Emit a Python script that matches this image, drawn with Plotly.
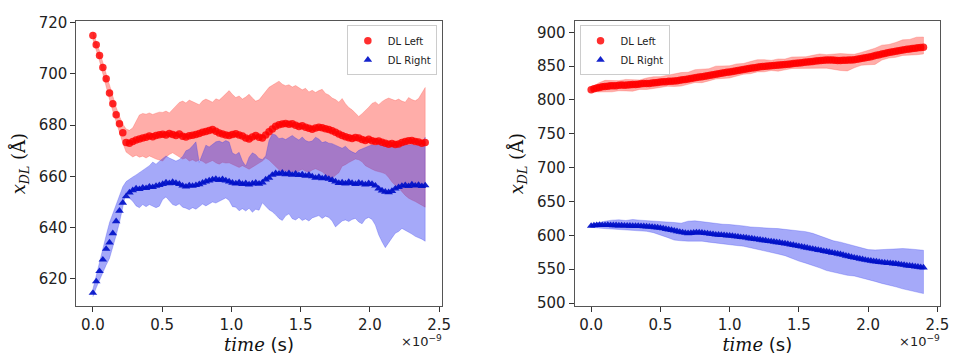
import plotly.graph_objects as go

# ---------------- Left panel data (time in units of 1e-9 s) ----------------
t_left = [round(0.024 * i, 4) for i in range(101)]

left_red_mean = [
    715.0, 711.4, 707.2, 702.5, 698.1, 692.6, 688.4, 684.1, 680.6, 677.1, 673.2,
    673.0, 673.6, 674.2, 674.6, 675.0, 675.3, 675.8, 675.5, 676.0, 676.3,
    676.5, 676.2, 676.8, 676.4, 676.0, 676.6, 675.7, 675.4, 675.9, 676.1,
    676.4, 676.8, 677.2, 677.5, 677.9, 678.3, 677.6, 677.0, 676.6, 676.2,
    676.0, 676.4, 676.7, 676.2, 675.8, 675.0, 674.6, 675.4, 676.0, 675.3,
    675.0, 676.2, 677.4, 678.5, 679.6, 680.2, 680.5, 680.7, 680.4, 680.6,
    680.0, 679.5, 679.8, 679.2, 678.8, 678.4, 678.9, 679.2, 679.0, 678.6,
    678.3, 677.8, 677.2, 676.6, 676.0, 675.5, 675.1, 674.8, 675.2, 675.0,
    674.4, 674.0, 674.5, 673.9, 673.6, 673.8, 673.3, 673.0, 672.6, 672.9,
    672.5, 672.7, 673.2, 673.6, 673.9, 674.0, 673.6, 673.4, 673.0, 673.2]

left_red_upper = [
    716.5, 713.0, 709.0, 704.5, 700.0, 695.0, 691.0, 687.0, 683.5, 680.5, 678.5,
    678.0, 679.0, 681.5, 684.0, 684.6, 684.3, 684.8, 684.2, 684.7, 685.1,
    685.0, 685.5, 684.8, 686.2, 687.6, 688.9, 689.4, 688.7, 689.8, 689.1,
    688.4, 688.0, 689.5, 690.2, 689.6, 689.0, 690.3, 689.8, 691.0, 692.4,
    693.5, 692.0, 690.8, 691.4, 690.2, 691.0, 692.1, 690.6, 689.4, 689.9,
    691.5, 693.4, 694.8, 695.6, 696.4, 697.2, 696.0, 695.4, 695.8, 694.9,
    695.5, 694.6, 693.8, 694.4, 693.0, 693.6, 692.8, 693.5, 694.0, 692.4,
    691.8, 690.6, 690.0, 689.0, 690.4, 688.4, 686.9, 686.0, 684.8, 683.4,
    684.5, 685.6, 687.0, 688.5, 689.1, 688.0, 689.2, 690.0, 690.6, 690.1,
    689.6, 690.2, 689.4, 689.0, 690.8, 690.0, 689.5, 690.4, 692.3, 694.7]

left_red_lower = [
    713.5, 709.5, 705.0, 700.0, 695.5, 690.0, 685.5, 681.0, 677.0, 673.0, 669.5,
    668.5, 667.6, 668.3, 667.5, 667.9, 667.2, 668.0, 667.4, 666.8, 666.3,
    666.0, 667.5, 668.6, 669.2, 668.4, 667.6, 666.8, 667.2, 666.0, 666.5,
    665.8, 666.4, 665.9, 665.0, 665.6, 666.2, 665.3, 664.8, 665.5, 665.2,
    665.3, 664.6, 664.0, 663.5, 664.2, 663.5, 662.8, 663.6, 664.4, 665.2,
    666.0, 667.2, 666.4, 665.0, 663.8, 662.6, 661.7, 662.3, 661.5, 662.0,
    661.4, 662.2, 662.8, 662.0, 661.6, 662.5, 663.0, 662.4, 661.8, 660.6,
    659.8, 659.2, 660.5, 661.4, 664.0, 664.6, 665.4, 666.2, 666.8, 666.5,
    665.7, 664.2, 663.6, 662.8, 662.2, 661.8, 661.5, 661.0, 659.6, 657.8,
    656.5, 655.5, 654.2, 652.6, 651.5, 650.8, 650.2, 649.6, 648.8, 648.0]

left_blue_mean = [
    614.5, 619.0, 623.0, 627.5, 631.7, 634.2, 637.8, 642.5, 646.6, 649.7, 652.2,
    653.7, 654.6, 655.3, 655.0, 655.6, 655.4, 656.0, 655.8, 656.3, 656.6,
    657.0, 657.6, 657.3, 657.8, 657.4, 657.0, 656.4, 656.0, 656.5, 656.3,
    656.6, 656.9, 657.5, 658.0, 658.4, 658.8, 659.0, 658.6, 658.9, 658.4,
    658.0, 657.5, 657.2, 657.6, 657.0, 657.3, 656.8, 657.2, 657.5, 657.1,
    657.6, 658.8, 659.4, 660.6, 661.2, 661.0, 661.4, 660.8, 661.2, 660.6,
    661.0, 660.5, 660.8, 660.2, 660.6, 660.0, 659.4, 659.8, 659.2, 659.5,
    659.0, 658.6, 658.0, 657.4, 657.6, 657.2, 657.8, 657.4, 657.0, 657.5,
    657.2, 656.8, 657.3, 657.0, 656.4, 655.2, 654.5, 654.0, 653.8, 654.3,
    655.2, 655.8, 656.3, 656.6, 656.2, 656.8, 656.4, 656.7, 656.2, 656.5]

left_blue_upper = [
    616.0, 621.5, 627.0, 632.0, 637.0, 642.0, 645.5, 649.0, 652.5, 656.0, 658.0,
    659.0, 659.8, 660.6, 661.5, 662.4, 663.0, 664.2, 665.6, 664.8, 665.9,
    667.0, 668.0, 667.2, 666.5, 666.0, 666.6, 667.8, 670.0, 670.6, 672.0,
    673.5, 665.5, 669.0, 672.2, 671.5, 672.4, 673.5, 673.8, 673.2, 674.0,
    673.4, 669.1, 668.5, 669.4, 666.0, 664.1, 667.5, 669.2, 668.5, 667.0,
    666.6, 668.0, 674.0, 676.6, 676.2, 674.7, 675.0, 674.4, 675.3, 676.0,
    675.0, 674.2, 675.4, 674.0, 673.5, 673.8, 675.3, 674.6, 673.2, 673.6,
    673.0, 672.8, 672.2, 671.6, 671.0, 671.8, 670.4, 669.6, 669.0, 670.2,
    670.8, 671.5, 672.0, 672.4, 672.0, 672.6, 672.2, 672.5, 671.8, 672.3,
    672.6, 672.0, 672.4, 672.8, 672.2, 672.5, 672.0, 672.6, 673.0, 675.3]

left_blue_lower = [
    613.0, 616.5, 619.5, 622.5, 625.4, 628.0, 632.0, 637.0, 642.0, 647.8, 654.0,
    651.5, 650.3, 648.5, 647.8, 649.0, 648.2, 649.0, 648.4, 647.8, 648.4,
    651.0, 652.0, 650.4, 649.0, 648.6, 649.3, 648.0, 647.6, 647.0, 647.8,
    647.2, 648.0, 649.2, 648.5, 649.4, 650.0, 649.6, 650.4, 651.0, 651.6,
    650.6, 648.2, 648.0, 646.6, 647.4, 646.5, 647.6, 646.0, 647.2, 646.8,
    649.7, 648.5, 647.0, 646.2, 645.0, 643.6, 642.8, 644.6, 645.4, 643.5,
    643.0, 644.0, 642.8, 643.4, 642.6, 643.8, 644.2, 644.7, 643.6, 644.5,
    644.0, 642.6, 640.3, 641.5, 642.6, 643.0, 642.4, 643.2, 643.6, 642.2,
    641.5, 643.4, 644.0, 643.2, 641.0, 637.2, 634.5, 632.2, 634.0, 636.0,
    637.8, 638.5, 639.7, 639.0, 638.2, 637.5, 636.6, 636.0, 635.5, 634.7]

# ---------------- Right panel data ----------------
t_right = [round(0.02 * i, 4) for i in range(121)]

right_red_mean = [
    815.0, 816.5, 817.8, 818.6, 819.4, 820.0, 820.4, 820.9, 821.2, 821.0,
    821.6, 822.0, 821.7, 822.3, 822.6, 823.0, 822.8, 823.4, 823.9, 824.2,
    824.5, 824.3, 825.0, 825.6, 826.0, 826.5, 826.8, 827.0, 827.6, 827.8,
    828.0, 828.6, 829.2, 829.8, 830.4, 831.0, 831.6, 832.4, 833.2, 833.8,
    834.5, 835.2, 835.9, 836.6, 837.4, 838.0, 838.6, 839.5, 840.2, 840.9,
    841.5, 842.2, 843.0, 843.6, 844.3, 845.0, 845.7, 846.4, 847.2, 847.8,
    848.5, 849.0, 849.4, 849.9, 850.2, 850.5, 850.9, 851.4, 851.8, 852.1,
    852.5, 852.9, 853.3, 853.8, 854.1, 854.5, 855.0, 855.6, 856.1, 856.5,
    857.0, 857.5, 857.9, 858.3, 858.8, 859.0, 859.2, 858.9, 858.6, 858.4,
    858.5, 858.6, 858.8, 859.0, 859.2, 859.5, 860.0, 860.8, 861.6, 862.3,
    863.0, 864.0, 865.0, 866.0, 867.0, 868.0, 868.8, 869.6, 870.4, 871.2,
    872.0, 872.7, 873.4, 874.1, 874.8, 875.5, 876.0, 876.5, 877.0, 877.5,
    878.0]

right_blue_mean = [
    614.0, 614.6, 615.0, 615.2, 615.1, 615.0, 615.3, 615.0, 614.8, 614.9,
    614.5, 614.7, 614.3, 614.4, 614.1, 614.0, 613.8, 613.9, 613.5, 613.3,
    613.0, 612.8, 612.4, 612.0, 611.6, 611.0, 610.2, 609.4, 608.6, 607.8,
    607.0, 606.0, 605.1, 604.4, 603.6, 603.0, 603.4, 603.9, 604.3, 604.1,
    604.0, 603.3, 602.9, 602.1, 601.7, 601.0, 600.9, 600.4, 600.3, 599.7,
    599.5, 599.1, 598.4, 598.1, 597.4, 597.0, 596.5, 595.7, 595.3, 594.5,
    594.0, 593.5, 592.7, 592.3, 591.5, 591.0, 590.5, 589.7, 589.3, 588.5,
    588.0, 587.3, 586.3, 585.7, 584.7, 584.0, 583.3, 582.3, 581.7, 580.7,
    580.0, 579.3, 578.3, 577.7, 576.7, 576.0, 575.3, 574.3, 573.7, 572.7,
    572.0, 571.1, 569.9, 569.1, 567.9, 567.0, 566.3, 565.3, 564.7, 563.7,
    563.0, 562.5, 561.7, 561.3, 560.5, 560.0, 559.7, 559.1, 558.9, 558.3,
    558.0, 557.5, 556.7, 556.3, 555.5, 555.0, 554.6, 553.9, 553.6, 552.9,
    552.5]

t_band_right = [round(0.05 * i, 4) for i in range(49)]

right_red_upper = [
    817.0, 824.8, 829.0, 829.0, 828.6, 830.4, 830.0, 829.6, 832.5, 834.3,
    834.5, 836.3, 838.0, 840.5, 841.0, 844.8, 845.5, 846.2, 850.0, 850.8,
    850.5, 853.3, 854.0, 856.8, 859.5, 859.6, 858.5, 860.6, 860.5, 863.5,
    863.5, 863.8, 866.0, 868.0, 867.0, 867.7, 868.5, 867.9, 867.5, 870.2,
    873.0, 876.5, 881.0, 882.0, 885.0, 888.8, 889.5, 892.8, 893.0]

right_red_lower = [
    813.0, 811.8, 812.0, 812.0, 813.6, 813.4, 813.0, 815.6, 815.5, 817.3,
    818.5, 820.3, 820.0, 820.5, 823.0, 825.8, 825.5, 828.2, 831.0, 831.8,
    832.5, 835.3, 838.0, 838.8, 841.5, 841.6, 843.5, 842.6, 844.5, 846.5,
    846.5, 846.8, 847.0, 847.0, 847.0, 844.7, 843.5, 842.9, 847.5, 851.2,
    852.0, 852.5, 859.0, 862.0, 863.0, 865.8, 866.5, 866.8, 868.0]

right_blue_upper = [
    616.0, 619.0, 621.0, 622.5, 623.0, 622.0, 623.5, 622.5, 622.0, 621.5,
    621.0, 619.5, 619.0, 618.0, 621.0, 621.5, 620.0, 618.5, 617.0, 616.5,
    616.0, 615.5, 614.0, 612.5, 611.5, 611.0, 610.5, 610.0, 609.0, 608.0,
    607.0, 605.5, 603.0, 599.0, 595.0, 592.0, 590.0, 587.0, 584.0, 581.0,
    579.0, 578.5, 579.0, 580.5, 581.0, 580.5, 580.0, 579.0, 578.0]

right_blue_lower = [
    612.0, 611.0, 610.0, 609.0, 608.5, 607.5, 607.0, 606.5, 606.0, 604.0,
    601.0, 597.0, 593.0, 592.0, 591.5, 591.0, 591.5, 590.0, 588.0, 587.0,
    586.0, 585.0, 584.0, 582.0, 579.0, 577.0, 575.0, 572.5, 570.0, 566.0,
    562.0, 559.0, 556.0, 552.0, 548.0, 545.0, 543.0, 541.0, 540.0, 537.5,
    535.0, 532.0, 529.0, 526.0, 524.0, 521.0, 519.0, 516.0, 514.0]

x_ticks = [0.0, 0.5, 1.0, 1.5, 2.0, 2.5]
left_y_ticks = [620, 640, 660, 680, 700, 720]
right_y_ticks = [500, 550, 600, 650, 700, 750, 800, 850, 900]

RED_FILL = "rgba(255,60,50,0.42)"
BLUE_FILL = "rgba(40,50,240,0.42)"
RED_MK = "rgba(255,0,0,0.82)"
BLUE_MK = "rgba(0,16,200,0.92)"

fig = go.Figure()


def band(t, up, lo, color, xa, ya):
    xs = list(t) + list(t)[::-1]
    ys = list(up) + list(lo)[::-1]
    return go.Scatter(x=xs, y=ys, fill="toself", fillcolor=color, mode="lines",
                      line=dict(width=0.6, color=color), hoverinfo="skip",
                      showlegend=False, xaxis=xa, yaxis=ya)


# left panel
fig.add_trace(band(t_left, left_red_upper, left_red_lower, RED_FILL, "x", "y"))
fig.add_trace(band(t_left, left_blue_upper, left_blue_lower, BLUE_FILL, "x", "y"))
fig.add_trace(go.Scatter(x=t_left, y=left_red_mean, mode="markers", name="DL Left",
                         marker=dict(symbol="circle", size=7.5, color=RED_MK, line=dict(width=0)),
                         xaxis="x", yaxis="y", legend="legend"))
fig.add_trace(go.Scatter(x=t_left, y=left_blue_mean, mode="markers", name="DL Right",
                         marker=dict(symbol="triangle-up", size=7.5, color=BLUE_MK, line=dict(width=0)),
                         xaxis="x", yaxis="y", legend="legend"))

# right panel
fig.add_trace(band(t_band_right, right_red_upper, right_red_lower, RED_FILL, "x2", "y2"))
fig.add_trace(band(t_band_right, right_blue_upper, right_blue_lower, BLUE_FILL, "x2", "y2"))
fig.add_trace(go.Scatter(x=t_right, y=right_red_mean, mode="markers", name="DL Left",
                         marker=dict(symbol="circle", size=7.5, color=RED_MK, line=dict(width=0)),
                         xaxis="x2", yaxis="y2", legend="legend2"))
fig.add_trace(go.Scatter(x=t_right, y=right_blue_mean, mode="markers", name="DL Right",
                         marker=dict(symbol="triangle-up", size=7.5, color=BLUE_MK, line=dict(width=0)),
                         xaxis="x2", yaxis="y2", legend="legend2"))

TICKFONT = dict(family="DejaVu Sans", size=15, color="#222")
XTITLE = "<span style='font-family:DejaVu Serif;font-style:italic'>time</span> (s)"
YTITLE = ("<span style='font-family:DejaVu Serif;font-style:italic'>x</span>"
          "<sub><span style='font-family:DejaVu Serif;font-style:italic'>DL</span></sub>"
          " <span style='font-family:DejaVu Serif'>(Å)</span>")

axis_common = dict(showgrid=False, zeroline=False, showline=True, mirror=True,
                   linecolor="#555", linewidth=1, ticks="outside", ticklen=5,
                   tickcolor="#333", tickfont=TICKFONT)

fig.update_layout(
    width=959, height=359,
    margin=dict(l=0, r=0, t=0, b=0),
    paper_bgcolor="white", plot_bgcolor="white",
    xaxis=dict(domain=[77 / 959, 446 / 959], range=[-0.12, 2.52], tickvals=x_ticks,
               tickformat=".1f", anchor="y",
               title=dict(text=XTITLE, font=dict(family="DejaVu Sans", size=18, color="#111"), standoff=2),
               **axis_common),
    yaxis=dict(domain=[1 - 310 / 359, 1 - 15 / 359], range=[609.5, 720.5], tickvals=left_y_ticks,
               anchor="x",
               title=dict(text=YTITLE, font=dict(family="DejaVu Sans", size=18, color="#111"), standoff=8),
               **axis_common),
    xaxis2=dict(domain=[580 / 959, 949 / 959], range=[-0.12, 2.52], tickvals=x_ticks,
                tickformat=".1f", anchor="y2",
                title=dict(text=XTITLE, font=dict(family="DejaVu Sans", size=18, color="#111"), standoff=2),
                **axis_common),
    yaxis2=dict(domain=[1 - 310 / 359, 1 - 15 / 359], range=[496, 916], tickvals=right_y_ticks,
                anchor="x2",
                title=dict(text=YTITLE, font=dict(family="DejaVu Sans", size=18, color="#111"), standoff=8),
                **axis_common),
    legend=dict(x=441 / 959, y=1 - 19 / 359, xanchor="right", yanchor="top",
                bgcolor="rgba(255,255,255,0.85)", bordercolor="#ccc", borderwidth=1,
                font=dict(family="DejaVu Sans", size=10, color="#222"),
                itemwidth=30, tracegroupgap=0),
    legend2=dict(x=585 / 959, y=1 - 19 / 359, xanchor="left", yanchor="top",
                 bgcolor="rgba(255,255,255,0.85)", bordercolor="#ccc", borderwidth=1,
                 font=dict(family="DejaVu Sans", size=10, color="#222"),
                 itemwidth=30, tracegroupgap=0),
    annotations=[
        dict(text="×10<sup>−9</sup>", x=448 / 959, y=1 - 357 / 359, xref="paper", yref="paper",
             xanchor="right", yanchor="bottom", showarrow=False,
             font=dict(family="DejaVu Sans", size=13, color="#222")),
        dict(text="×10<sup>−9</sup>", x=951 / 959, y=1 - 357 / 359, xref="paper", yref="paper",
             xanchor="right", yanchor="bottom", showarrow=False,
             font=dict(family="DejaVu Sans", size=13, color="#222")),
    ],
)

fig.write_html("out.html")
